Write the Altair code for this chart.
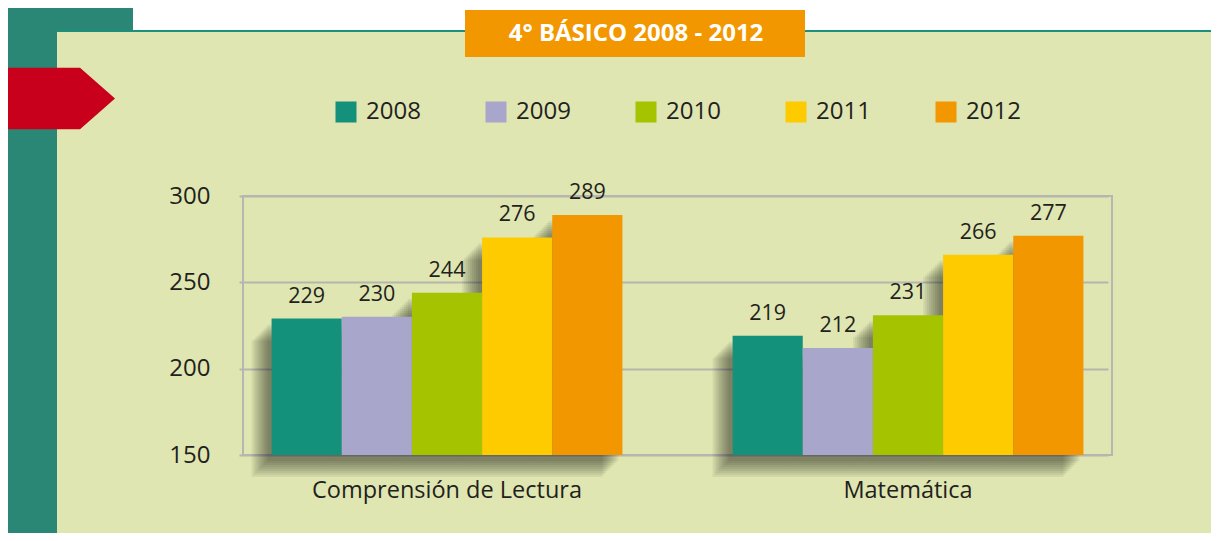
import altair as alt
import pandas as pd

# ---------------- data ----------------
subjects = ["Comprensión de Lectura", "Matemática"]
years = ["2008", "2009", "2010", "2011", "2012"]
lectura = [229, 230, 244, 276, 289]
matematica = [219, 212, 231, 266, 277]
year_colors = ["#14917a", "#a8a6cb", "#a6c300", "#fecb00", "#f39700"]
y_ticks = [150, 200, 250, 300]
title_text = "4° BÁSICO 2008 - 2012"

rows = []
for subj, vals in zip(subjects, [lectura, matematica]):
    for yr, v in zip(years, vals):
        rows.append({"subject": subj, "year": yr, "value": v})
df = pd.DataFrame(rows)
one = pd.DataFrame({"k": [0]})

# ---------------- style ----------------
FONT = "Open Sans"
TEXT_COLOR = "#231f20"
PANEL = "#dfe6b1"
TEAL = "#2a8775"
BORDER_TEAL = "#1b917b"
W, H = 869, 259
OX, OY = 243, 196  # plot origin on the page


def px(x):
    return x - OX


def py(y):
    return y - OY


PI, PO = 0.239, 0.062


def xscale(shift=0):
    kw = dict(type="band", domain=subjects, paddingInner=PI, paddingOuter=PO)
    if shift:
        kw["range"] = [{"expr": f"{-shift}"}, {"expr": f"width - {shift}"}]
    return alt.Scale(**kw)


xo_scale = alt.Scale(type="band", domain=years, paddingInner=0, paddingOuter=0)
y_scale = alt.Scale(domain=[150, 300], nice=False, zero=False)
y_axis = alt.Axis(title=None, values=y_ticks, ticks=False, domain=False, grid=True,
                  gridColor="#b6b6ae", gridWidth=2, labelFontSize=24, labelPadding=33,
                  labelColor=TEXT_COLOR, labelFont=FONT)


def rect(x0, x1, y0, y1, color):
    return alt.Chart(one).mark_rect(color=color, opacity=1).encode(
        x=alt.value(px(x0)), x2=alt.value(px(x1)), y=alt.value(py(y0)), y2=alt.value(py(y1)))


decor = [
    rect(0, 57, 0, 541, TEAL),
    rect(0, 133, 0, 31, TEAL),
    rect(133, 1219, 0, 30, "#ffffff"),
    rect(57, 1219, 30, 32, BORDER_TEAL),
    rect(465, 805, 10, 57, "#f39700"),
    alt.Chart(one).mark_point(
        shape="M-1,-0.576L0.346,-0.576L1,0L0.346,0.576L-1,0.576Z",
        size=107 * 107, filled=True, color="#c8001b", opacity=1, strokeWidth=0,
    ).encode(x=alt.value(px(61.5)), y=alt.value(py(98.5))),
    alt.Chart(one).mark_text(
        text=title_text, font=FONT, fontWeight="bold", fontSize=24, color="#ffffff",
        align="center", baseline="middle",
    ).encode(x=alt.value(px(636)), y=alt.value(py(34))),
]

shadows = []
for d in [4, 6, 8, 10, 12, 14, 16, 18, 20]:
    dy = d + 2
    shadows.append(
        alt.Chart(df).mark_bar(color="#000000", opacity=0.06, yOffset=dy, y2Offset=dy).encode(
            x=alt.X("subject:N", scale=xscale(d), axis=None),
            xOffset=alt.XOffset("year:N", scale=xo_scale),
            y=alt.Y("value:Q", scale=y_scale, axis=y_axis),
            y2=alt.datum(150),
        )
    )

bars = alt.Chart(df).mark_bar(opacity=1).encode(
    x=alt.X("subject:N", scale=xscale(0),
            axis=alt.Axis(title=None, labelAngle=0, labelFontSize=23.5, labelPadding=23,
                          labelLimit=500, ticks=False, domain=False, labelColor=TEXT_COLOR,
                          labelFont=FONT)),
    xOffset=alt.XOffset("year:N", scale=xo_scale),
    y=alt.Y("value:Q", scale=y_scale, axis=y_axis),
    y2=alt.datum(150),
    color=alt.Color("year:N", scale=alt.Scale(domain=years, range=year_colors),
                    legend=alt.Legend(title=None, orient="none", legendX=91, legendY=-96,
                                      direction="horizontal", symbolType="square",
                                      symbolSize=441, symbolStrokeWidth=0, symbolOpacity=1,
                                      labelFontSize=24, labelFont=FONT, labelColor=TEXT_COLOR,
                                      labelOffset=8, columnPadding=63, padding=0)),
)

labels = alt.Chart(df).mark_text(dy=-22, fontSize=21.5, font=FONT,
                                 color=TEXT_COLOR, baseline="middle", align="center").encode(
    x=alt.X("subject:N", scale=xscale(0), axis=None),
    xOffset=alt.XOffset("year:N", scale=xo_scale),
    y=alt.Y("value:Q", scale=y_scale, axis=y_axis),
    text="value:Q",
)

chart = (
    alt.layer(*decor, *shadows, bars, labels)
    .resolve_scale(x="independent", xOffset="independent")
    .properties(width=W, height=H,
                padding={"left": 235, "top": 188, "right": 99, "bottom": 78},
                autosize=alt.AutoSizeParams(type="none"), background=PANEL)
    .configure_view(stroke="#b7b7b2", strokeWidth=2)
)

chart.save("out.html", embed_options={"renderer": "svg", "actions": False})
